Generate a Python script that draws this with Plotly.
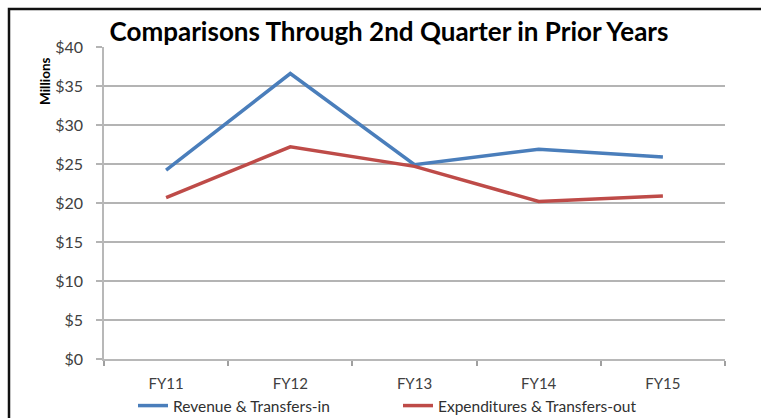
import plotly.graph_objects as go

categories = ["FY11", "FY12", "FY13", "FY14", "FY15"]
revenue = [24.2, 36.6, 24.9, 26.9, 25.9]
expenditures = [20.7, 27.2, 24.7, 20.2, 20.9]
y_ticks = [0, 5, 10, 15, 20, 25, 30, 35, 40]
y_tick_labels = ["$" + str(v) for v in y_ticks]

FONT = "Lato, 'Open Sans', sans-serif"

fig = go.Figure()
fig.add_trace(go.Scatter(x=categories, y=revenue, mode="lines",
                         name="Revenue & Transfers-in",
                         line=dict(color="#4A7EBB", width=3.5)))
fig.add_trace(go.Scatter(x=categories, y=expenditures, mode="lines",
                         name="Expenditures & Transfers-out",
                         line=dict(color="#BE4B48", width=3.5)))

L, R, T, B = 104, 36, 47, 59
W, H = 761, 418
pw, ph = W - L - R, H - T - B
bx = (9 - L) / pw
by = 1 + (T - 9) / ph

fig.update_layout(
    width=W, height=H,
    margin=dict(l=L, r=R, t=T, b=B, autoexpand=False),
    paper_bgcolor="white", plot_bgcolor="white",
    font=dict(family=FONT, color="#404040", size=13),
    title=dict(text="<b>Comparisons Through 2nd Quarter in Prior Years</b>",
               x=(389 - L) / pw, xref="paper", xanchor="center",
               y=1 - 32 / H, yanchor="middle",
               font=dict(family=FONT, size=26, color="#000000")),
    showlegend=True,
    legend=dict(orientation="h", x=(133 - L) / pw, xanchor="left",
                y=(359 - 389) / ph, yanchor="top",
                font=dict(family=FONT, size=15.5, color="#303030"),
                entrywidth=220, entrywidthmode="pixels",
                bgcolor="rgba(0,0,0,0)"),
    xaxis=dict(type="category", categoryorder="array", categoryarray=categories,
               showgrid=False, showline=True, linecolor="#B8B8B8", linewidth=1.5,
               ticks="outside", tickson="boundaries", ticklen=5,
               tickcolor="#A0A0A0", tickwidth=1.5,
               ticklabelstandoff=10,
               tickfont=dict(family=FONT, size=15, color="#404040"),
               range=[-0.5, 4.5], zeroline=False),
    yaxis=dict(range=[0, 40], tickvals=y_ticks, ticktext=y_tick_labels,
               showgrid=True, gridcolor="#B4B4B4", gridwidth=1.5,
               showline=True, linecolor="#B8B8B8", linewidth=1.5,
               ticks="outside", ticklen=6, tickcolor="#B4B4B4", tickwidth=1.5,
               ticklabelstandoff=10, zeroline=False,
               tickfont=dict(family=FONT, size=16, color="#404040")),
    annotations=[dict(text="<b>Millions</b>", textangle=-90, xref="paper", yref="paper",
                      x=(45 - L) / pw, y=1 - (81 - T) / ph, xanchor="center",
                      yanchor="middle", showarrow=False,
                      font=dict(family=FONT, size=13.5, color="#000000"))],
    shapes=[dict(type="path", xref="paper", yref="paper",
                 path=f"M {bx},-0.3 L {bx},{by} L 1.2,{by}",
                 line=dict(color="#111111", width=2.5))],
)

fig.write_html("out.html", config={"displayModeBar": False},
               post_script="document.body.style.margin='0';document.body.style.overflow='hidden';")
